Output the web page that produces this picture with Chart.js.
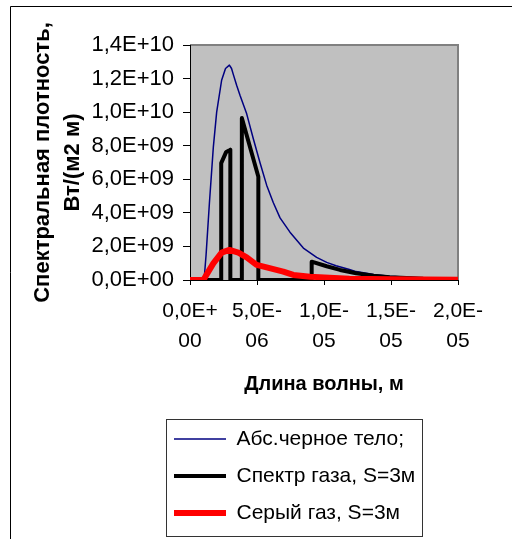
<!DOCTYPE html>
<html><head><meta charset="utf-8">
<script src="https://cdn.jsdelivr.net/npm/chart.js@4.4.1/dist/chart.umd.min.js"></script>
<style>html,body{margin:0;padding:0;background:#fff}canvas{display:block}</style>
</head><body>
<canvas id="c" width="512" height="539"></canvas>
<script>
// ---- data ----
const seriesNames = ['Абс.черное тело;', 'Спектр газа, S=3м', 'Серый газ, S=3м'];

const blackBodyX = [0, 1.05e-6, 1.2e-6, 1.45e-6, 1.74e-6, 1.99e-6, 2.36e-6, 2.65e-6, 2.94e-6, 3.1e-6, 3.23e-6, 3.48e-6, 3.73e-6, 4.23e-6, 4.73e-6, 5.22e-6, 5.72e-6, 6.22e-6, 6.72e-6, 7.46e-6, 8.46e-6, 9.45e-6, 1.02e-5, 1.09e-5, 1.19e-5, 1.24e-5, 1.37e-5, 1.49e-5, 1.74e-5, 2.0e-5];
const blackBodyY = [0, 0, 1.5e9, 4.6e9, 7.9e9, 10.0e9, 11.9e9, 12.6e9, 12.8e9, 12.6e9, 12.25e9, 11.6e9, 11.0e9, 9.9e9, 8.4e9, 7.0e9, 5.65e9, 4.6e9, 3.7e9, 2.85e9, 1.9e9, 1.35e9, 1.05e9, 0.85e9, 0.62e9, 0.5e9, 0.33e9, 0.23e9, 0.12e9, 0.07e9];

const gasX = [0, 2.33e-6, 2.33e-6, 2.70e-6, 3.01e-6, 3.01e-6, 3.87e-6, 3.87e-6, 5.10e-6, 5.10e-6, 9.08e-6, 9.08e-6, 1.02e-5, 1.12e-5, 1.24e-5, 1.37e-5, 1.49e-5, 1.74e-5, 2.0e-5];
const gasY = [0, 0, 6.96e9, 7.63e9, 7.76e9, 0, 0, 9.65e9, 6.15e9, 0, 0, 1.09e9, 0.82e9, 0.6e9, 0.4e9, 0.26e9, 0.17e9, 0.08e9, 0.04e9];

const greyX = [0, 1.0e-6, 1.37e-6, 1.74e-6, 2.36e-6, 2.94e-6, 3.61e-6, 4.23e-6, 4.97e-6, 5.72e-6, 6.96e-6, 7.71e-6, 8.96e-6, 1.04e-5, 1.19e-5, 1.5e-5, 2.0e-5];
const greyY = [0, 0, 0.5e9, 0.99e9, 1.63e9, 1.79e9, 1.63e9, 1.35e9, 0.9e9, 0.75e9, 0.5e9, 0.3e9, 0.2e9, 0.14e9, 0.08e9, 0.04e9, 0.02e9];

const xTickLabels = [['0,0E+', '00'], ['5,0E-', '06'], ['1,0E-', '05'], ['1,5E-', '05'], ['2,0E-', '05']];
const yTickLabels = ['0,0E+00', '2,0E+09', '4,0E+09', '6,0E+09', '8,0E+09', '1,0E+10', '1,2E+10', '1,4E+10'];
const xTitle = 'Длина волны, м';
const yTitle = ['Спектральная плотность,', 'Вт/(м2 м)'];

// ---- chart ----
const FONT = '"Liberation Sans", Arial, sans-serif';
const pts = (xs, ys) => xs.map((x, i) => ({x: x, y: ys[i]}));

const decor = {
  id: 'decor',
  beforeDraw(chart) {
    const ctx = chart.ctx, a = chart.chartArea;
    ctx.save();
    ctx.fillStyle = '#fff';
    ctx.fillRect(0, 0, chart.width, chart.height);
    // outer frame
    ctx.strokeStyle = '#000'; ctx.lineWidth = 1;
    ctx.beginPath(); ctx.moveTo(10.5, chart.height); ctx.lineTo(10.5, 6.5); ctx.lineTo(chart.width, 6.5); ctx.stroke();
    // plot area
    ctx.fillStyle = '#c0c0c0';
    ctx.fillRect(a.left, a.top, a.right - a.left, a.bottom - a.top);
    ctx.strokeStyle = '#808080'; ctx.lineWidth = 2;
    ctx.beginPath(); ctx.moveTo(a.left, a.top); ctx.lineTo(a.right, a.top); ctx.lineTo(a.right, a.bottom); ctx.stroke();
    // legend frame
    ctx.strokeStyle = '#333'; ctx.lineWidth = 1;
    ctx.strokeRect(166.5, 419.5, 256, 117);
    ctx.restore();
  },
  afterLayout(chart) {
    const lg = chart.legend;
    if (lg) { lg.left = 158; lg.top = 412.5; lg.right = 512; lg.bottom = 600; lg.width = 354; lg.height = 187.5; }
  }
};

new Chart(document.getElementById('c'), {
  type: 'scatter',
  data: {
    datasets: [
      {label: seriesNames[0], data: pts(blackBodyX, blackBodyY), borderColor: '#000080', backgroundColor: '#000080', borderWidth: 1.5, order: 3},
      {label: seriesNames[1], data: pts(gasX, gasY), borderColor: '#000000', backgroundColor: '#000000', borderWidth: 4, order: 2, borderCapStyle: 'round'},
      {label: seriesNames[2], data: pts(greyX, greyY), borderColor: '#ff0000', backgroundColor: '#ff0000', borderWidth: 6, order: 1, borderCapStyle: 'round'}
    ].map(d => Object.assign({showLine: true, pointRadius: 0, pointHoverRadius: 0, tension: 0, borderJoinStyle: 'round', fill: false}, d))
  },
  options: {
    responsive: false,
    animation: false,
    devicePixelRatio: 1,
    events: [],
    layout: {padding: {left: 10, top: 45, right: 54, bottom: 129}},
    scales: {
      x: {
        type: 'linear', min: 0, max: 2e-5,
        afterFit: s => { s.height = 130; },
        ticks: {stepSize: 5e-6, color: '#000', padding: 11, maxRotation: 0, autoSkip: false,
          font: {family: FONT, size: 21, lineHeight: 1.43},
          callback: (v, i) => xTickLabels[i]},
        grid: {drawOnChartArea: false, color: '#000', tickLength: 5},
        border: {color: '#000', width: 1},
        title: {display: true, text: xTitle, color: '#000', font: {family: FONT, size: 20, weight: 'bold', lineHeight: 1.2}, padding: {top: 0, bottom: 14}}
      },
      y: {
        type: 'linear', min: 0, max: 1.4e10,
        afterFit: s => { s.width = 180; },
        ticks: {stepSize: 2e9, color: '#000', padding: 9, autoSkip: false,
          font: {family: FONT, size: 22},
          callback: (v, i) => yTickLabels[i]},
        grid: {drawOnChartArea: false, color: '#000', tickLength: 7},
        border: {color: '#000', width: 1},
        title: {display: true, text: yTitle, color: '#000', font: {family: FONT, size: 22, weight: 'bold', lineHeight: 1.36}, padding: {top: 18, bottom: 0}}
      }
    },
    plugins: {
      tooltip: {enabled: false},
      legend: {
        position: 'chartArea', align: 'start',
        labels: {
          color: '#000', font: {family: FONT, size: 21}, padding: 16,
          usePointStyle: true, pointStyle: 'line', pointStyleWidth: 52,
          sort: (a, b) => a.datasetIndex - b.datasetIndex
        }
      }
    }
  },
  plugins: [decor]
});
</script>
</body></html>
